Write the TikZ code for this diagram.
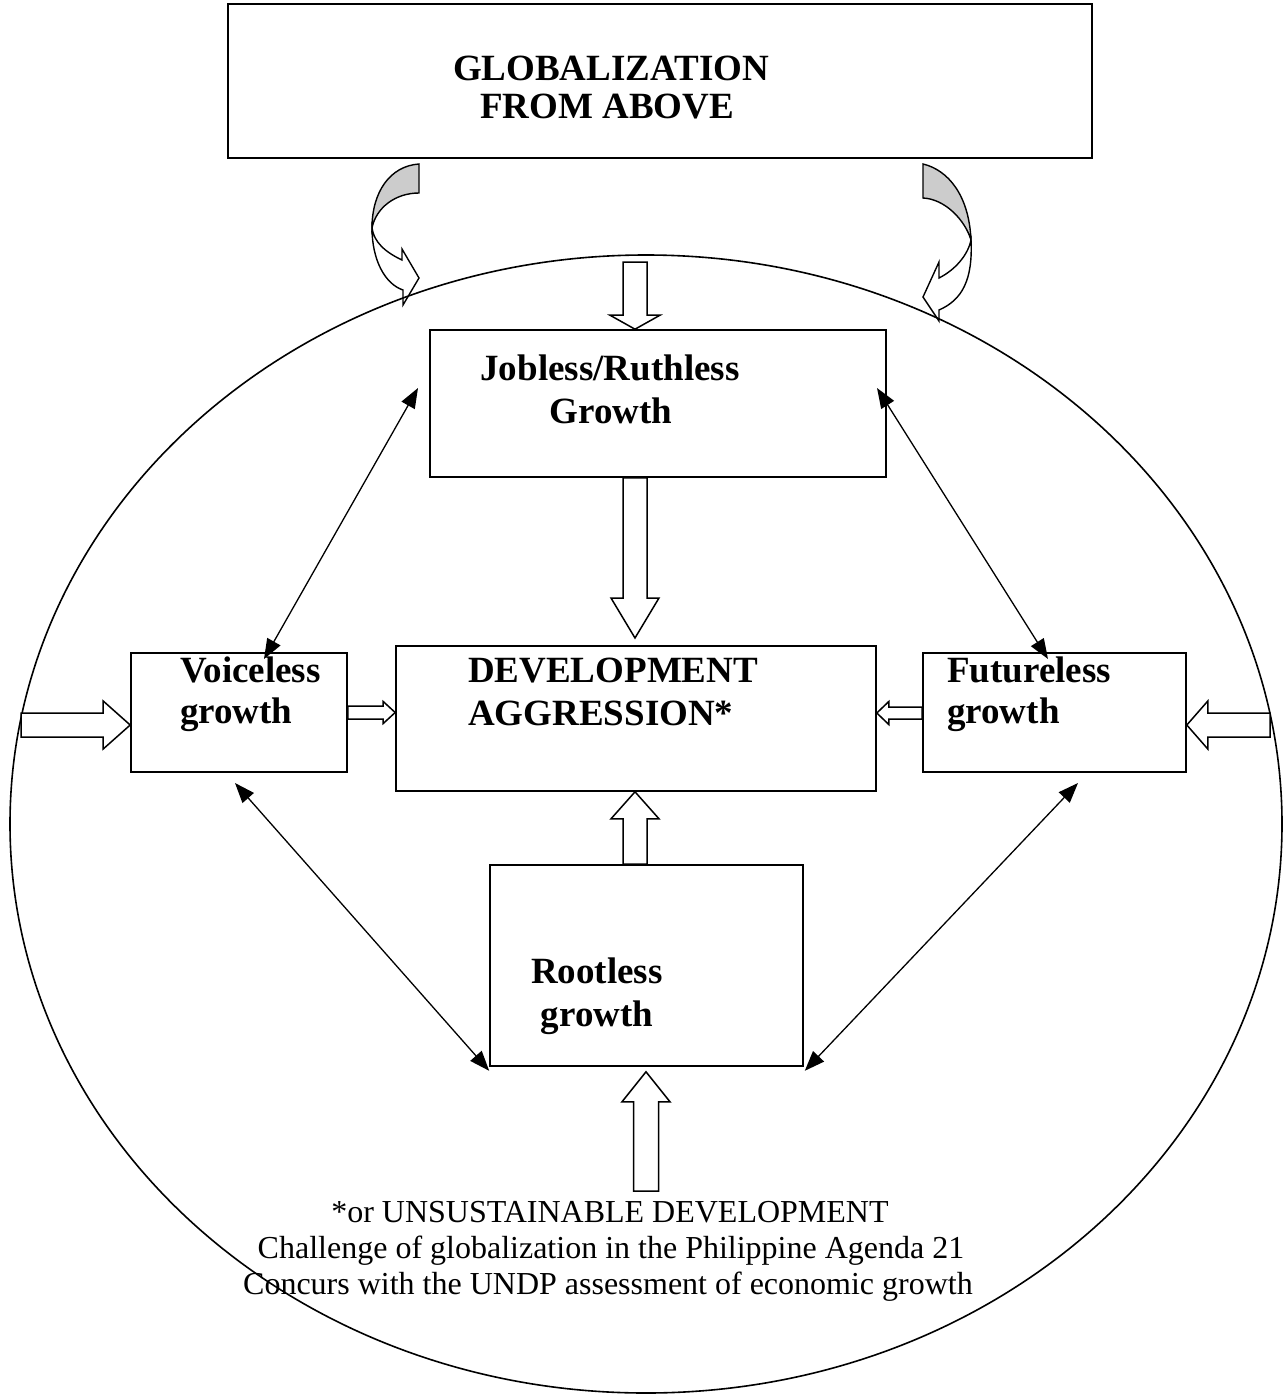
\documentclass[tikz,border=0pt]{standalone}
\usepackage{fontspec}
\setmainfont{Liberation Serif}
\usetikzlibrary{calc,arrows.meta}
\newcommand{\blockarr}[5]{% from, to, shaft half width, head half width, head length
  \coordinate (bh) at ($(#2)!#5!(#1)$);
  \draw[blk] ($(#1)!#3!90:(#2)$) -- ($(bh)!#3!90:(#2)$) -- ($(bh)!#4!90:(#2)$) -- (#2)
    -- ($(bh)!#4!-90:(#2)$) -- ($(bh)!#3!-90:(#2)$) -- ($(#1)!#3!-90:(#2)$) -- cycle;
}
\tikzset{
  box/.style={draw, line width=1.6pt, rectangle, inner sep=0pt, fill=white},
  blk/.style={draw, fill=white, line width=1.5pt, line join=miter},
  bt/.style={font=\fontsize{37}{42}\selectfont\bfseries, inner sep=0pt, anchor=base},
  btl/.style={bt, anchor=base west},
  ft/.style={font=\fontsize{32}{36}\selectfont, inner sep=0pt, anchor=base},
  dbl/.style={line width=1.3pt, {Triangle[length=20pt,width=15pt]}-{Triangle[length=20pt,width=15pt]}},
  curv/.style={draw, line width=1.4pt, line join=miter},
}
\begin{document}
\begin{tikzpicture}[x=1pt,y=-1pt]
\useasboundingbox (0,0) rectangle (1287,1395);
\fill[white] (0,0) rectangle (1287,1395);

% boxes
\node[box, minimum width=864pt, minimum height=154pt] (top) at (660,81) {};
\node[box, minimum width=456pt, minimum height=147pt] (job) at (658,403.5) {};
\node[box, minimum width=216pt, minimum height=119pt] (voice) at (239,712.5) {};
\node[box, minimum width=480pt, minimum height=145pt] (dev) at (636,718.5) {};
\node[box, minimum width=263pt, minimum height=119pt] (fut) at (1054.5,712.5) {};
\node[box, minimum width=313pt, minimum height=201pt] (root) at (646.5,965.5) {};

% curved arrows (left)
\path[curv, fill=black!20] (419,164) .. controls (390,166) and (372,192) .. (372,228)
  .. controls (376,208) and (395,193) .. (419,193) -- cycle;
\path[curv, fill=white] (372,228) .. controls (372,260) and (385,284) .. (403,290)
  -- (403,305) -- (419,278) -- (402,249) -- (402,260)
  .. controls (385,252) and (374,242) .. (372,228) -- cycle;
% curved arrow (right)
\path[curv, fill=black!20] (923,164) .. controls (948,170) and (969,195) .. (971,240)
  .. controls (965,220) and (945,199) .. (923,198) -- cycle;
\path[curv, fill=white] (971,240) .. controls (973,280) and (962,300) .. (939,310)
  -- (939,321) -- (923,297) -- (939,262) -- (939,278)
  .. controls (955,270) and (968,255) .. (971,240) -- cycle;

% big ellipse
\draw[line width=1.6pt] (646,824) ellipse [x radius=636, y radius=569];

% texts
\node[bt] (t1) at (611,80) {GLOBALIZATION};
\node[bt] (t2) at (607,118) {FROM ABOVE};
\node[bt] (t3) at (610,380) {Jobless/Ruthless};
\node[bt] (t4) at (611,423) {Growth};
\node[btl] (t5) at (468,682) {DEVELOPMENT};
\node[btl] (t6) at (468,725) {AGGRESSION*};
\node[btl] (t7) at (180,682) {Voiceless};
\node[btl] (t8) at (180,723) {growth};
\node[btl] (t9) at (947,682) {Futureless};
\node[btl] (t10) at (947,723) {growth};
\node[bt] (t11) at (597,983) {Rootless};
\node[bt] (t12) at (597,1026) {growth};
\node[ft] (f1) at (610,1222) {*or UNSUSTAINABLE DEVELOPMENT};
\node[ft] (f2) at (611,1258) {Challenge of globalization in the Philippine Agenda 21};
\node[ft] (f3) at (608,1294) {Concurs with the UNDP assessment of economic growth};

% block arrow endpoints
\coordinate (a1s) at (635,262);
\coordinate (a1e) at ($(job.north)+(-23,0)$);
\coordinate (a2s) at ($(job.south)+(-23,0)$);
\coordinate (a2e) at (635,638);
\coordinate (a3s) at ($(root.north)+(-11.5,0)$);
\coordinate (a3e) at ($(dev.south)+(-1,0)$);
\coordinate (a4s) at (646,1191);
\coordinate (a4e) at ($(root.south)+(-0.5,5)$);
\coordinate (a5s) at (21,725);
\coordinate (a5e) at (voice.west |- a5s);
\coordinate (a6s) at (voice.east |- 0,712.5);
\coordinate (a6e) at (dev.west |- a6s);
\coordinate (a7s) at (fut.west |- 0,713);
\coordinate (a7e) at (dev.east |- a7s);
\coordinate (a8s) at (1270,725);
\coordinate (a8e) at (fut.east |- a8s);

\blockarr{a1s}{a1e}{12pt}{25pt}{14pt}
\blockarr{a2s}{a2e}{12pt}{24pt}{40pt}
\blockarr{a3s}{a3e}{12pt}{24pt}{27pt}
\blockarr{a4s}{a4e}{12.5pt}{24pt}{30pt}
\blockarr{a5s}{a5e}{12pt}{24pt}{27pt}
\blockarr{a6s}{a6e}{6.5pt}{11pt}{12pt}
\blockarr{a7s}{a7e}{6pt}{11.5pt}{12pt}
\blockarr{a8s}{a8e}{12pt}{24pt}{21pt}

% double-headed arrows
\coordinate (d1a) at (418,388);
\coordinate (d1b) at (264,659);
\coordinate (d2a) at (877,388);
\coordinate (d2b) at (1048,659);
\coordinate (d3a) at (235,783);
\coordinate (d3b) at (root.south west);
\coordinate (d4a) at (1078,783);
\coordinate (d4b) at (root.south east);
\draw[dbl] (d1a) -- (d1b);
\draw[dbl] (d2a) -- (d2b);
\draw[dbl] (d3a) -- ($(d3b)+(0,4)$);
\draw[dbl] (d4a) -- ($(d4b)+(1,4)$);
\end{tikzpicture}
\end{document}
